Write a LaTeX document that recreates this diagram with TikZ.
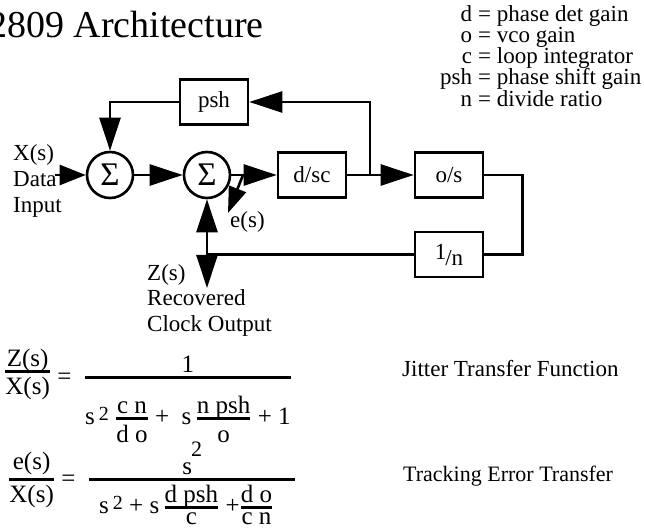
\documentclass[tikz,border=0pt]{standalone}
\usepackage{amsmath}
\usepackage{fontspec}
\setmainfont{Liberation Serif}
\usetikzlibrary{arrows.meta,positioning}

% thick-bar fractions: \fr compact (text style)
\newcommand{\fr}[2]{\genfrac{}{}{3.4pt}{1}{#1}{#2}}
\newcommand{\sq}[1]{\raisebox{#1}{\fontsize{20}{20}\selectfont 2}}

\tikzset{
  sig/.style={line width=2.6pt},
  arr/.style={sig,-{Triangle[length=33pt,width=21pt]}},
  blk/.style={draw,sig,minimum width=68pt,minimum height=45pt,inner sep=0pt},
  summer/.style={draw,sig,circle,minimum size=46pt,inner sep=0pt,font=\fontsize{33}{33}\selectfont},
  lbl/.style={inner sep=0pt,align=left},
  eqn/.style={lbl,font=\fontsize{25}{28}\selectfont}
}

\begin{document}
\begin{tikzpicture}[x=1pt,y=-1pt,every node/.style={font=\fontsize{23}{26}\selectfont}]
    \useasboundingbox (0,0) rectangle (645,529);

    \node[lbl,anchor=base west,font=\fontsize{38}{42}\selectfont] (title) at (-12,38) {2809 Architecture};

    % legend, lined up on the = signs
    \foreach \k/\v/\y in {d/phase det gain/22,o/vco gain/43,c/loop integrator/64,psh/phase shift gain/85,n/divide ratio/107}{
      \node[lbl,anchor=base east] (key-\k) at (478,\y) {\k\ };
      \node[lbl,anchor=base west] (val-\k) at (key-\k.base east) {= \v};
    }

    % loop blocks
    \node[summer] (sum1) at (110,175) {Σ};
    \node[summer] (sum2) at (207,175) {Σ};
    \node[blk] (psh) at (214,102) {psh};
    \node[blk] (dsc) at (312,175) {d/sc};
    \node[blk] (os) at (449,175) {o/s};
    \node[blk,below=32pt of os] (divn) {\raisebox{6pt}{1}\kern-1pt/n};

    \coordinate (tap) at (370,175);
    \coordinate (xin) at (55,175);
    \coordinate (zjoin) at (sum2 |- divn);
    \coordinate (zend) at (207,288);
    \coordinate (etap) at (243,175);
    \coordinate (etip) at (228,213);

    \draw[sig,-{Triangle[length=26pt,width=20pt]}] (xin) -- (sum1.west);
    \draw[arr] (sum1) -- (sum2);
    \draw[arr] (sum2) -- (dsc);
    \draw[arr] (dsc) -- (os);
    \draw[arr] (tap) |- (psh.east);
    \draw[arr] (psh.west) -| (sum1.north);
    \draw[sig] (os.east) -- ++(38,0) |- (divn.east);
    \draw[sig] (divn.west) -- (zjoin);
    \draw[arr] (zjoin) -- (sum2.south);
    \draw[arr] (zjoin) -- (zend);
    \draw[sig,-{Triangle[length=26pt,width=18pt]}] (etap) -- (etip);

    \node[lbl,anchor=north west] (xlab) at (13,144) {X(s)\\Data\\Input};
    \node[lbl,anchor=base west] (elab) at (230,228) {e(s)};
    \node[lbl,anchor=north west,font=\fontsize{23}{25.5}\selectfont] (zlab) at (147,264) {Z(s)\\Recovered\\Clock Output};

    % transfer functions
    \node[eqn,anchor=base west] (jtf) at (4,384)
      {\raisebox{6pt}{$\fr{\smash[b]{\mbox{Z(s)}}}{\mbox{X(s)}}$}\mbox{\ =\ \ }$\fr{\mbox{1}}{\rule{0pt}{42pt}\mbox{s\,\sq{4pt}\ }\fr{\mbox{c n}}{\rule{0pt}{19pt}\mbox{d o}}\mbox{ +\ \ s\,}\fr{\smash[b]{\mbox{n psh}}}{\rule{0pt}{19pt}\mbox{o}}\mbox{ + 1}}$};
    \node[lbl,anchor=base west] (jtxt) at (402,376) {Jitter Transfer Function};
    \node[eqn,anchor=base west] (etf) at (8,486)
      {$\fr{\mbox{e(s)}}{\mbox{X(s)}}\mbox{\ =\ \ }\fr{\mbox{s\kern-1pt\raisebox{18pt}{\fontsize{22}{22}\selectfont 2}}}{\hspace{10pt}\mbox{s\,\sq{4pt} + s\,}\fr{\smash[b]{\mbox{d psh}}}{\mbox{c}}\mbox{ +}\fr{\mbox{d o}}{\mbox{c n}}\hspace{22pt}}$};
    \node[lbl,anchor=base west,font=\fontsize{22}{26}\selectfont] (etxt) at (403,481) {Tracking Error Transfer};
\end{tikzpicture}
\end{document}
